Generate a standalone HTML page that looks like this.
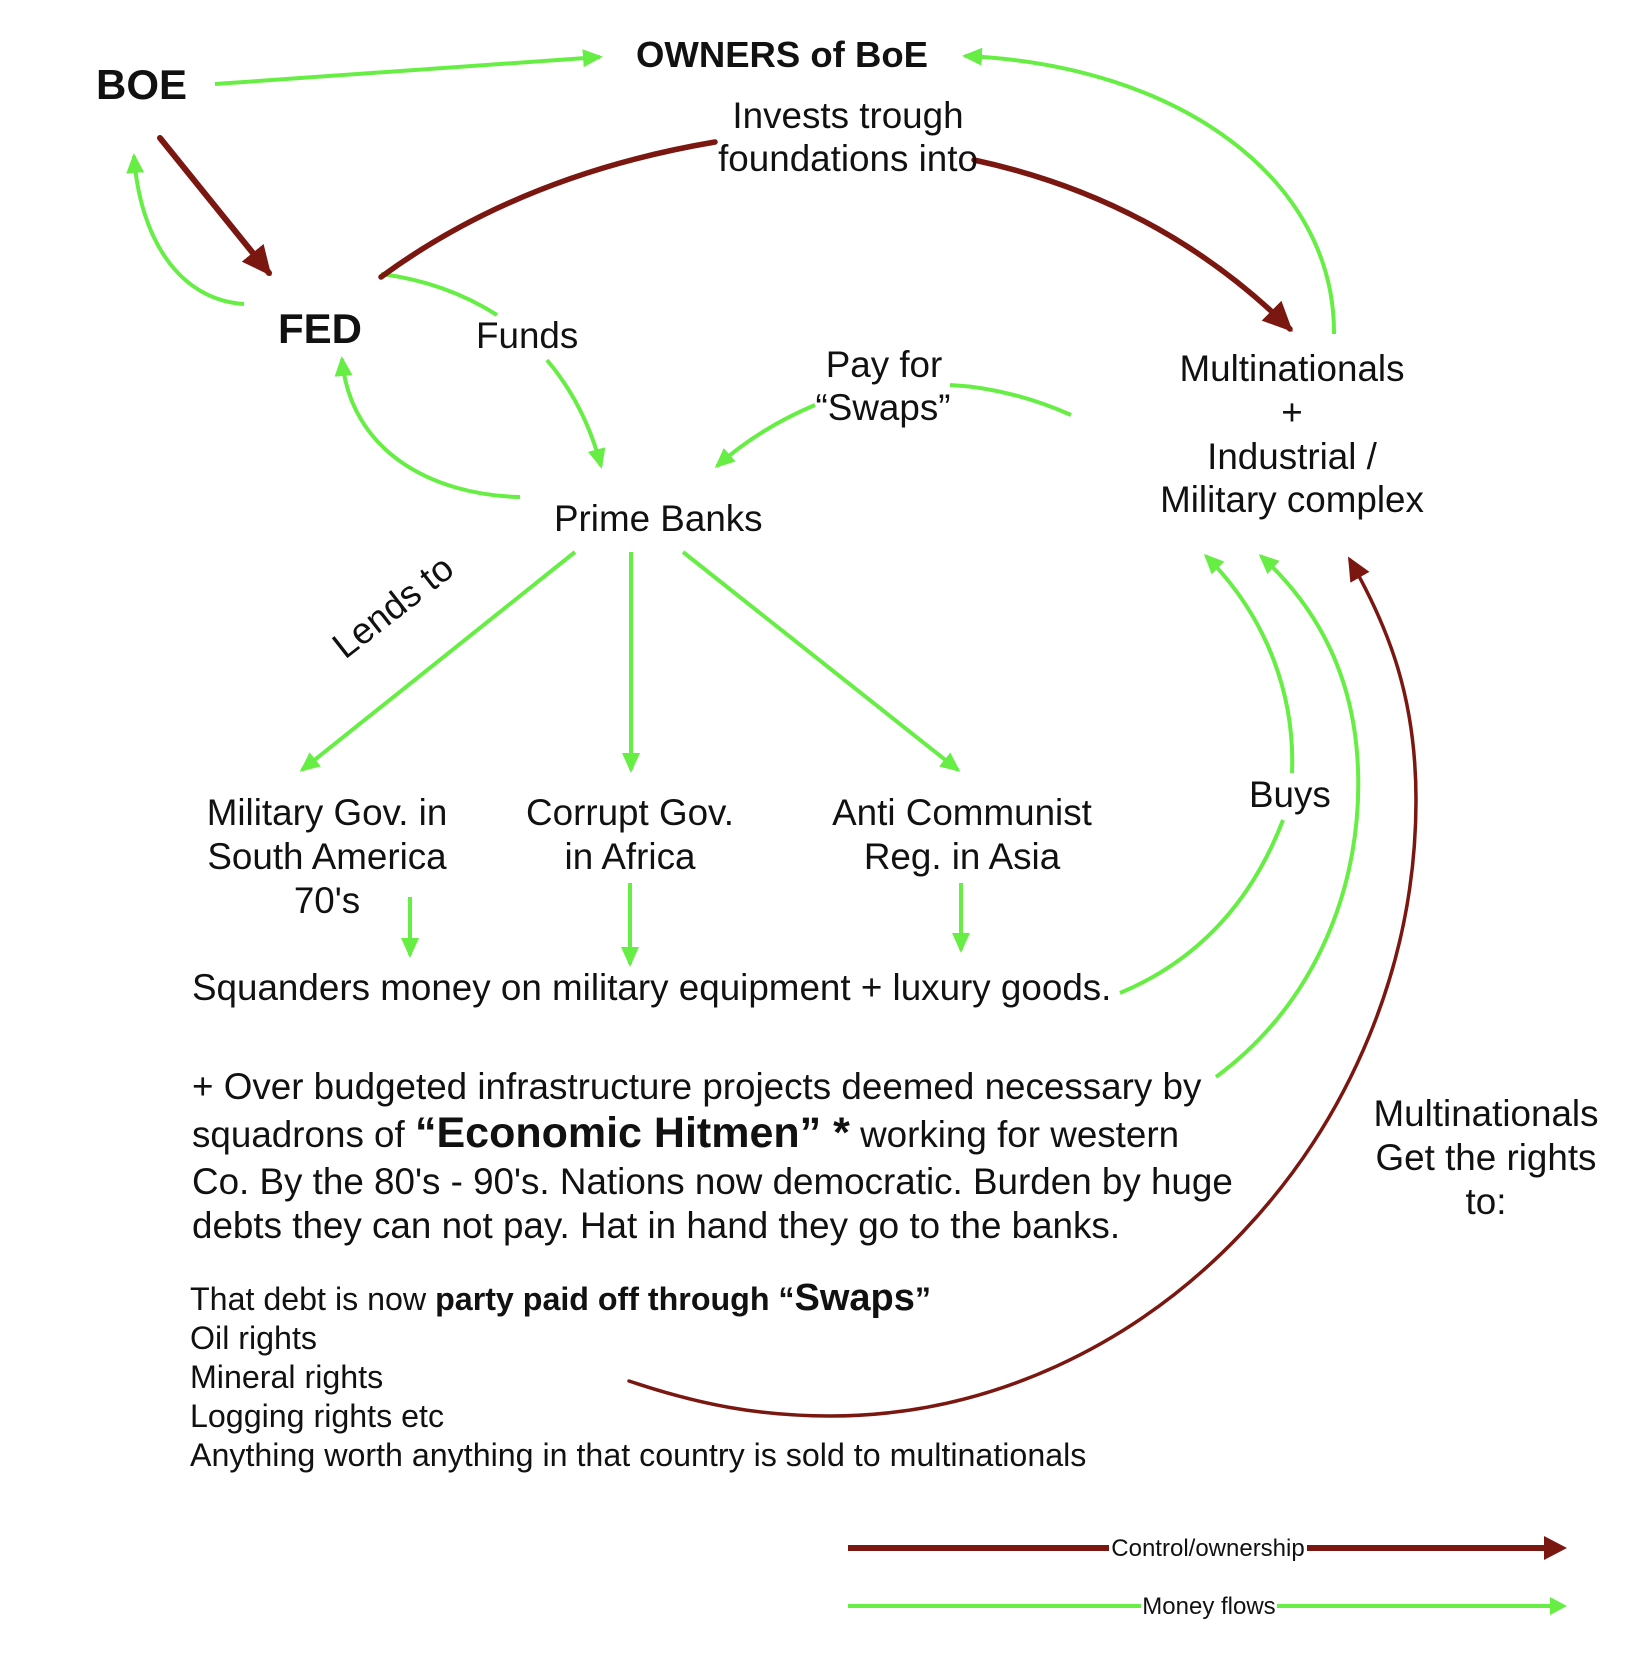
<!DOCTYPE html>
<html>
<head>
<meta charset="utf-8">
<style>
  html, body { margin: 0; padding: 0; background: #ffffff; }
  svg { display: block; }
  text { font-family: "Liberation Sans", Arial, sans-serif; fill: #111; }
</style>
</head>
<body>
<svg width="1648" height="1654" viewBox="0 0 1648 1654" xmlns="http://www.w3.org/2000/svg">
  <defs>
    <marker id="ga" markerUnits="userSpaceOnUse" markerWidth="22" markerHeight="20" refX="17" refY="9" orient="auto">
      <path d="M0,0 L20,9 L0,18 z" fill="#66ee44"/>
    </marker>
    <marker id="bb" markerUnits="userSpaceOnUse" markerWidth="34" markerHeight="30" refX="26" refY="14" orient="auto">
      <path d="M0,0 L30,14 L0,28 z" fill="#7a1710"/>
    </marker>
    <marker id="bs" markerUnits="userSpaceOnUse" markerWidth="26" markerHeight="24" refX="20" refY="11" orient="auto">
      <path d="M0,0 L24,11 L0,22 z" fill="#7a1710"/>
    </marker>
  </defs>

  <rect x="0" y="0" width="1648" height="1654" fill="#ffffff"/>

  <g fill="none" stroke="#66ee44" stroke-width="4" stroke-linecap="butt">
    <path d="M215,84 L600,57" marker-end="url(#ga)"/>
    <path d="M244,304 C180,300 140,240 134,156" marker-end="url(#ga)"/>
    <path d="M381,274 Q445,282 497,315"/>
    <path d="M547,360 Q585,405 601,466" marker-end="url(#ga)"/>
    <path d="M520,497 C430,495 350,450 342,359" marker-end="url(#ga)"/>
    <path d="M1071,415 Q1010,388 950,385"/>
    <path d="M815,405 Q760,428 717,466" marker-end="url(#ga)"/>
    <path d="M1334,334 C1335,180 1180,65 965,56" marker-end="url(#ga)"/>
    <path d="M575,552 L302,770" marker-end="url(#ga)"/>
    <path d="M631,552 L631,770" marker-end="url(#ga)"/>
    <path d="M683,552 L958,770" marker-end="url(#ga)"/>
    <path d="M410,897 L410,955" marker-end="url(#ga)"/>
    <path d="M630,883 L630,964" marker-end="url(#ga)"/>
    <path d="M961,883 L961,950" marker-end="url(#ga)"/>
    <path d="M1120,993 Q1235,945 1283,820"/>
    <path d="M1292,773 C1295,700 1270,620 1206,556" marker-end="url(#ga)"/>
    <path d="M1216,1077 C1320,1000 1362,880 1358,770 C1355,680 1320,610 1261,556" marker-end="url(#ga)"/>
  </g>

  <g fill="none" stroke="#7a1710" stroke-linecap="round">
    <path d="M160,138 L269,273" stroke-width="6" marker-end="url(#bb)"/>
    <path d="M381,277 Q520,175 715,142" stroke-width="5.5"/>
    <path d="M974,160 Q1160,200 1290,329" stroke-width="5.5" marker-end="url(#bb)"/>
    <path d="M629,1381 C700,1405 760,1416 830,1416 C1150,1416 1416,1130 1416,800 C1416,700 1390,630 1350,560" stroke-width="3.5" marker-end="url(#bs)"/>
  </g>

  <path d="M848,1548 L1546,1548" stroke="#7a1710" stroke-width="6" fill="none"/>
  <polygon points="1544,1536 1567,1548 1544,1560" fill="#7a1710"/>
  <path d="M848,1606 L1552,1606" stroke="#66ee44" stroke-width="4" fill="none"/>
  <polygon points="1550,1597 1567,1606 1550,1615" fill="#66ee44"/>
  <rect x="1109" y="1532" width="198" height="30" fill="#ffffff"/>
  <rect x="1141" y="1591" width="136" height="30" fill="#ffffff"/>
  <text x="1208" y="1556" font-size="24" text-anchor="middle">Control/ownership</text>
  <text x="1209" y="1614" font-size="24" text-anchor="middle">Money flows</text>

  <text x="96" y="99" font-size="42" font-weight="bold">BOE</text>
  <text x="636" y="67" font-size="36.5" font-weight="bold">OWNERS of BoE</text>
  <text x="848" y="128" font-size="36.8" text-anchor="middle">Invests trough</text>
  <text x="848" y="171" font-size="36.8" text-anchor="middle">foundations into</text>
  <text x="278" y="343" font-size="42" font-weight="bold">FED</text>
  <text x="476" y="348" font-size="36.8">Funds</text>
  <text x="884" y="377" font-size="36.8" text-anchor="middle">Pay for</text>
  <text x="883" y="420" font-size="36.8" text-anchor="middle">“Swaps”</text>
  <text x="554" y="531" font-size="36.8">Prime Banks</text>

  <text x="1292" y="381" font-size="36.8" text-anchor="middle">Multinationals</text>
  <text x="1292" y="425" font-size="36.8" text-anchor="middle">+</text>
  <text x="1292" y="469" font-size="36.8" text-anchor="middle">Industrial /</text>
  <text x="1292" y="512" font-size="36.8" text-anchor="middle">Military complex</text>

  <text x="345" y="660" font-size="36.8" transform="rotate(-38 345 660)">Lends to</text>

  <text x="327" y="825" font-size="36.8" text-anchor="middle">Military Gov. in</text>
  <text x="327" y="869" font-size="36.8" text-anchor="middle">South America</text>
  <text x="327" y="913" font-size="36.8" text-anchor="middle">70's</text>
  <text x="630" y="825" font-size="36.8" text-anchor="middle">Corrupt Gov.</text>
  <text x="630" y="869" font-size="36.8" text-anchor="middle">in Africa</text>
  <text x="962" y="825" font-size="36.8" text-anchor="middle">Anti Communist</text>
  <text x="962" y="869" font-size="36.8" text-anchor="middle">Reg. in Asia</text>

  <text x="1249" y="807" font-size="36.8">Buys</text>

  <text x="192" y="1000" font-size="36.8">Squanders money on military equipment + luxury goods.</text>

  <text x="192" y="1099" font-size="36.8">+ Over budgeted infrastructure projects deemed necessary by</text>
  <text x="192" y="1147" font-size="36.8">squadrons of <tspan font-size="43" font-weight="bold">“Economic Hitmen” *</tspan> working for western</text>
  <text x="192" y="1194" font-size="36.8">Co. By the 80's - 90's. Nations now democratic. Burden by huge</text>
  <text x="192" y="1238" font-size="36.8">debts they can not pay. Hat in hand they go to the banks.</text>

  <text x="190" y="1310" font-size="32.2">That debt is now <tspan font-weight="bold">party paid off through “<tspan font-size="38">Swaps</tspan>”</tspan></text>
  <text x="190" y="1349" font-size="32.2">Oil rights</text>
  <text x="190" y="1388" font-size="32.2">Mineral rights</text>
  <text x="190" y="1427" font-size="32.2">Logging rights etc</text>
  <text x="190" y="1466" font-size="32.2">Anything worth anything in that country is sold to multinationals</text>

  <text x="1486" y="1126" font-size="36.8" text-anchor="middle">Multinationals</text>
  <text x="1486" y="1170" font-size="36.8" text-anchor="middle">Get the rights</text>
  <text x="1486" y="1214" font-size="36.8" text-anchor="middle">to:</text>
</svg>
</body>
</html>
